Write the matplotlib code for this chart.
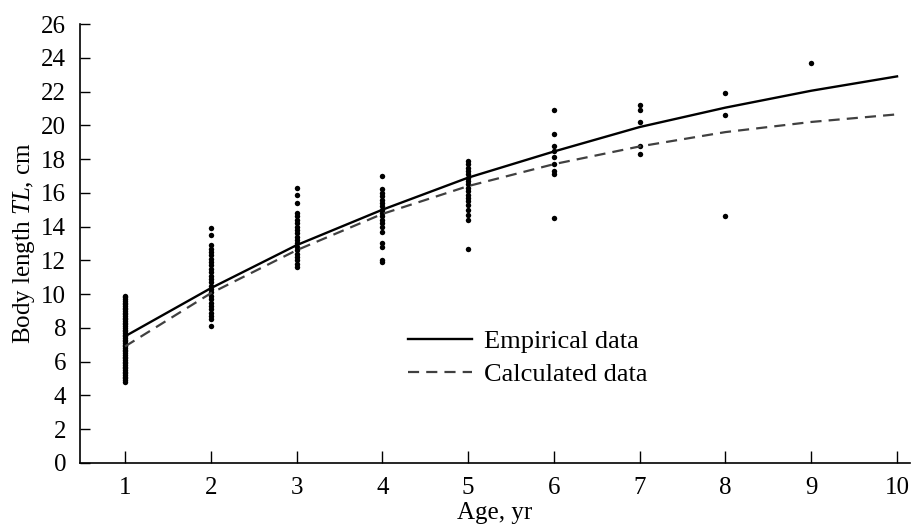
import matplotlib
matplotlib.use("Agg")
import matplotlib.pyplot as plt

# Observed body length (cm) by age group
age1 = [4.8, 4.9, 5.0, 5.1, 5.2, 5.3, 5.4, 5.5, 5.6, 5.7, 5.8, 5.9, 6.0, 6.1, 6.2,
        6.3, 6.4, 6.5, 6.6, 6.7, 6.8, 6.9, 7.0, 7.1, 7.2, 7.3, 7.4, 7.5, 7.6, 7.7,
        7.8, 7.9, 8.0, 8.1, 8.2, 8.3, 8.4, 8.5, 8.6, 8.7, 8.8, 8.9, 9.0, 9.1, 9.2,
        9.3, 9.4, 9.5, 9.6, 9.7, 9.8, 9.9]
age2 = [13.9, 13.5, 12.9, 12.7, 12.5, 12.3, 12.1, 11.9, 11.7, 11.5, 11.3, 11.1,
        10.9, 10.7, 10.5, 10.3, 10.1, 9.9, 9.7, 9.5, 9.3, 9.1, 8.9, 8.7, 8.5, 8.1]
age3 = [16.3, 15.9, 15.4, 14.8, 14.6, 14.4, 14.2, 14.0, 13.8, 13.6, 13.4, 13.2,
        13.0, 12.8, 12.6, 12.4, 12.2, 12.0, 11.8, 11.6]
age4 = [17.0, 16.2, 16.0, 15.8, 15.6, 15.4, 15.2, 15.0, 14.8, 14.6, 14.4, 14.2,
        14.0, 13.7, 13.0, 12.8, 12.0, 11.9]
age5 = [17.9, 17.7, 17.5, 17.3, 17.1, 16.9, 16.7, 16.5, 16.3, 16.1, 15.9, 15.7,
        15.5, 15.3, 15.0, 14.7, 14.4, 12.7]
age6 = [20.9, 19.5, 18.8, 18.5, 18.1, 17.7, 17.3, 17.1, 14.5]
age7 = [21.2, 20.9, 20.2, 18.8, 18.3]
age8 = [21.9, 20.6, 14.6]
age9 = [23.7]
observed = {1: age1, 2: age2, 3: age3, 4: age4, 5: age5,
            6: age6, 7: age7, 8: age8, 9: age9}

# Growth curves
ages = [1, 2, 3, 4, 5, 6, 7, 8, 9, 10]
empirical = [7.5, 10.35, 12.9, 15.0, 16.9, 18.45, 19.9, 21.05, 22.05, 22.9]
calculated = [6.9, 10.05, 12.6, 14.75, 16.4, 17.7, 18.75, 19.6, 20.2, 20.65]

plt.rcParams["font.family"] = ["Liberation Serif", "DejaVu Serif"]
plt.rcParams["mathtext.fontset"] = "custom"
plt.rcParams["mathtext.it"] = "Liberation Serif:italic"
plt.rcParams["mathtext.rm"] = "Liberation Serif"

fig = plt.figure(figsize=(9.11, 5.29), dpi=100)
ax = fig.add_axes([0.0878, 0.125, 0.911, 0.8295])

for a, vals in observed.items():
    ax.plot([a] * len(vals), vals, "o", color="black", markersize=3.9,
            markeredgewidth=0, linestyle="none")

ax.plot(ages, empirical, "-", color="black", linewidth=1.7, label="Empirical data")
ax.plot(ages, calculated, color="#404040", linewidth=1.6, dashes=(5, 3.2),
        label="Calculated data")

ax.set_xlim(0.475, 10.15)
ax.set_ylim(0, 26)
ax.set_xticks(ages)
ax.set_yticks(range(0, 27, 2))

for side in ("top", "right"):
    ax.spines[side].set_visible(False)
for side in ("left", "bottom"):
    ax.spines[side].set_linewidth(1.2)

ax.tick_params(axis="both", direction="in", labelsize=18, width=1.0, color="black")
ax.tick_params(axis="y", length=7, pad=10)
ax.tick_params(axis="x", length=9, pad=10)

ax.set_xlabel("Age, yr", fontsize=18, labelpad=2)
ax.set_ylabel(r"Body length $\mathit{TL}$, cm", fontsize=18, labelpad=3)

ax.legend(loc="upper left", bbox_to_anchor=(0.383, 0.327), frameon=False,
          fontsize=19, handlelength=2.4, handletextpad=0.45, labelspacing=0.35,
          borderaxespad=0)

fig.savefig("out.png", dpi=100)
